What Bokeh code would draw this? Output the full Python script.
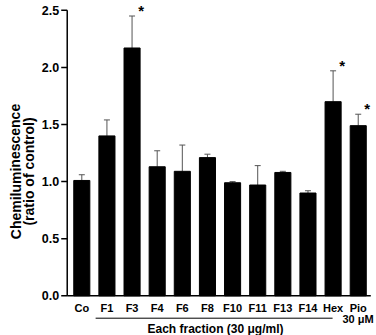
from bokeh.plotting import figure
from bokeh.models import ColumnDataSource, Whisker, TeeHead
from bokeh.core.properties import value
from bokeh.embed import file_html
from bokeh.resources import INLINE

# Chemiluminescence by fraction, ratio of control (mean and upper error)
groups = ["Co", "F1", "F3", "F4", "F6", "F8", "F10", "F11", "F13", "F14", "Hex", "Pio"]
means = [1.01, 1.40, 2.17, 1.13, 1.09, 1.21, 0.99, 0.97, 1.08, 0.90, 1.70, 1.49]
upper = [1.06, 1.54, 2.45, 1.27, 1.32, 1.24, 1.00, 1.14, 1.09, 0.92, 1.97, 1.59]
significant = [False, False, True, False, False, False, False, False, False, False, True, True]
y_ticks = [0.0, 0.5, 1.0, 1.5, 2.0, 2.5]
y_tick_labels = ["0.0", "0.5", "1.0", "1.5", "2.0", "2.5"]

FONT = "Liberation Sans"
W, H = 376, 335

# the whole canvas is the plotting frame; axes are drawn as glyphs so that
# titles and captions outside the value area are not clipped
PX_X = 25.13          # pixels per category step
PX_Y = 114.2          # pixels per unit of ratio
X_ORIGIN = 81.3       # pixel column of the first category
Y_ORIGIN = 39.7       # pixel row of zero, counted from the bottom
x_lo = -X_ORIGIN / PX_X
y_lo = -Y_ORIGIN / PX_Y

def dx(px):
    return px / PX_X

def dy(px):
    return px / PX_Y

AXIS_X = -0.58
X_END = 11.5

p = figure(width=W, height=H, output_backend="svg", toolbar_location=None,
           x_range=(x_lo, x_lo + dx(W)), y_range=(y_lo, y_lo + dy(H)),
           min_border=0, outline_line_color=None)
p.axis.visible = False
p.grid.grid_line_color = None

xs = list(range(len(groups)))
src = ColumnDataSource(dict(x=xs, top=means, upper=upper))

# bars and error bars
p.vbar(x="x", top="top", width=0.64, bottom=0, source=src,
       fill_color="black", line_color="black")
p.add_layout(Whisker(base="x", lower="top", upper="upper", source=src,
                     line_color="#555555", line_width=1, lower_head=None,
                     upper_head=TeeHead(size=6, line_color="#555555", line_width=1)))

# significance marks
sx = [x + 0.36 for x, s in zip(xs, significant) if s]
sy = [u + 0.05 for u, s in zip(upper, significant) if s]
p.text(x=sx, y=sy, text=["*"] * len(sx), text_font=value(FONT),
       text_font_style="bold", text_font_size="15px",
       text_align="center", text_baseline="middle", text_color="black")

# y axis: line, outward ticks and labels
p.segment(x0=[AXIS_X], y0=[0], x1=[AXIS_X], y1=[y_ticks[-1]],
          line_color="black", line_width=1.5)
p.segment(x0=[AXIS_X] * len(y_ticks), y0=y_ticks,
          x1=[AXIS_X - dx(6)] * len(y_ticks), y1=y_ticks,
          line_color="black", line_width=1.5)
p.text(x=[AXIS_X - dx(8)] * len(y_ticks), y=y_ticks, text=y_tick_labels,
       text_font=value(FONT), text_font_style="bold", text_font_size="12.5px",
       text_align="right", text_baseline="middle", text_color="black")

# x axis line and category labels
p.segment(x0=[AXIS_X], y0=[0], x1=[X_END], y1=[0],
          line_color="black", line_width=1.5)
p.text(x=xs, y=[-dy(12.5)] * len(xs), text=groups,
       text_font=value(FONT), text_font_style="bold", text_font_size="11px",
       text_align="center", text_baseline="middle", text_color="black")

# y axis title (two lines)
p.text(x=[x_lo + dx(15), x_lo + dx(28.5)], y=[dy(295.3 - 171)] * 2,
       text=["Chemiluminescence", "(ratio of control)"], angle=1.5708,
       text_font=value(FONT), text_font_style="bold", text_font_size="14px",
       text_align="center", text_baseline="middle", text_color="black")

# bracket spanning the fractions, and group captions
p.segment(x0=[0.55], y0=[-dy(22.4)], x1=[9.98], y1=[-dy(22.4)],
          line_color="black", line_width=1)
p.text(x=[5.32], y=[-dy(33)], text=["Each fraction (30 \u03bcg/ml)"],
       text_font=value(FONT), text_font_style="bold", text_font_size="12px",
       text_align="center", text_baseline="middle", text_color="black")
p.text(x=[10.99], y=[-dy(23.5)], text=["30 \u03bcM"],
       text_font=value(FONT), text_font_style="bold", text_font_size="11px",
       text_align="center", text_baseline="middle", text_color="black")

open("out.html", "w").write(file_html(p, INLINE))
